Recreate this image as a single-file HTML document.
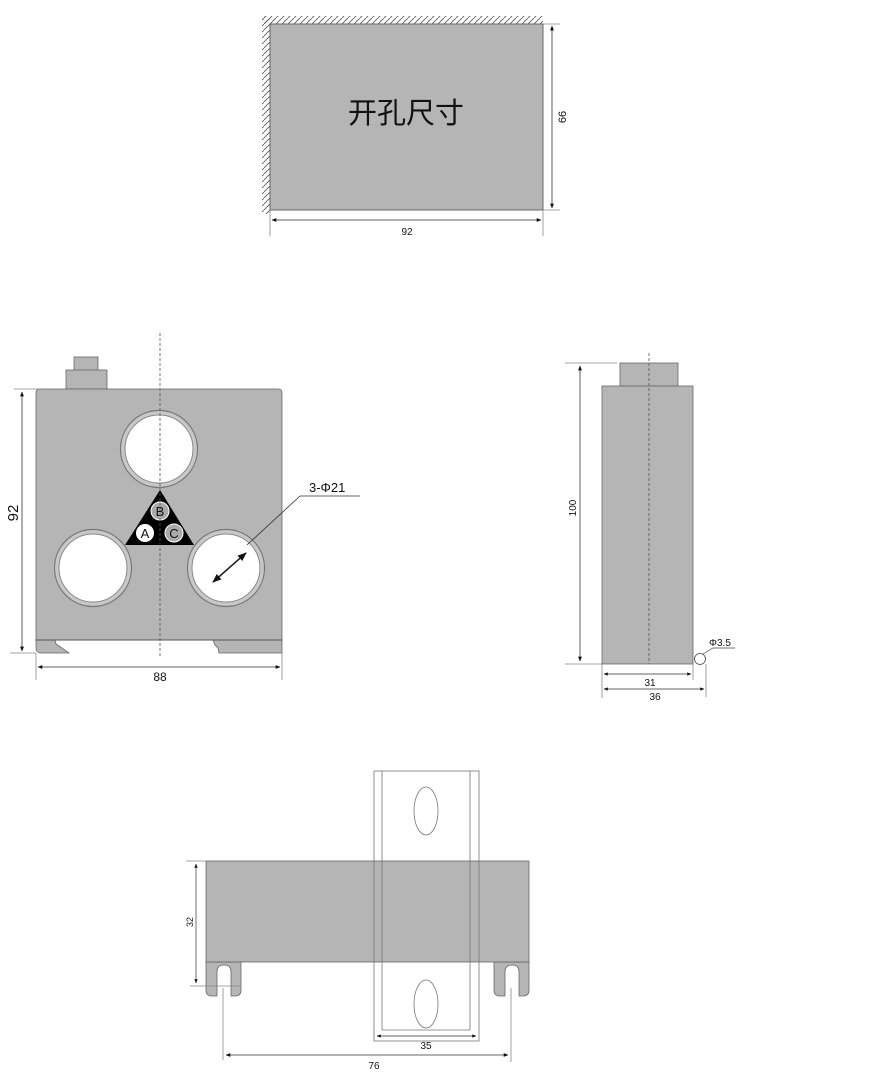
<!DOCTYPE html>
<html><head><meta charset="utf-8"><style>
html,body{margin:0;padding:0;background:#fff;}
svg{display:block;}
text{font-family:"Liberation Sans","Noto Sans CJK SC",sans-serif;fill:#111;}
</style></head><body>
<svg width="890" height="1079" viewBox="0 0 890 1079" xmlns="http://www.w3.org/2000/svg">
<defs>
<marker id="a" viewBox="0 0 10 10" refX="9" refY="5" markerWidth="6" markerHeight="6" orient="auto-start-reverse"><path d="M0,1 L10,5 L0,9 z" fill="#111"/></marker>
<pattern id="h" width="6" height="6" patternUnits="userSpaceOnUse"><path d="M0,6 L6,0" stroke="#555" stroke-width="0.8"/></pattern>
</defs>

<rect x="262" y="16" width="281" height="8" fill="url(#h)"/>
<rect x="262" y="16" width="8" height="198" fill="url(#h)"/>
<rect x="270" y="24" width="273" height="186" fill="#b5b5b5" stroke="#666" stroke-width="1"/>
<text x="406" y="123" font-size="29" text-anchor="middle">开孔尺寸</text>
<line x1="543" y1="24" x2="560" y2="24" stroke="#888" stroke-width="0.8"/>
<line x1="543" y1="210" x2="560" y2="210" stroke="#888" stroke-width="0.8"/>
<line x1="552" y1="26" x2="552" y2="208" stroke="#333" stroke-width="0.8" marker-start="url(#a)" marker-end="url(#a)"/>
<text x="0" y="0" font-size="11" text-anchor="middle" transform="translate(566,117) rotate(-90)">66</text>
<line x1="270" y1="210" x2="270" y2="236" stroke="#888" stroke-width="0.8"/>
<line x1="543" y1="210" x2="543" y2="236" stroke="#888" stroke-width="0.8"/>
<line x1="272" y1="220" x2="541" y2="220" stroke="#333" stroke-width="0.8" marker-start="url(#a)" marker-end="url(#a)"/>
<text x="407" y="235" font-size="10" text-anchor="middle">92</text>

<rect x="74" y="357" width="24" height="14" fill="#b5b5b5" stroke="#666" stroke-width="0.8"/>
<rect x="66" y="370" width="41" height="19" fill="#b5b5b5" stroke="#666" stroke-width="0.8"/>
<path d="M36,393 Q36,389 40,389 L278,389 Q282,389 282,393 L282,640 L36,640 Z" fill="#b5b5b5" stroke="#666" stroke-width="0.8"/>
<path d="M36,640 L55,640 L56,644 L69,653 L40,653 Q36,652 36,648 Z" fill="#b5b5b5" stroke="#666" stroke-width="0.8"/>
<path d="M213,640 L282,640 L282,653 L219,653 L218,648 L215,645 Z" fill="#b5b5b5" stroke="#666" stroke-width="0.8"/>
<line x1="36" y1="640" x2="282" y2="640" stroke="#555" stroke-width="1"/>
<g stroke="#777" stroke-width="1.2" fill="#c8c8c8">
<circle cx="159" cy="449" r="38.5"/><circle cx="93" cy="568" r="38.5"/><circle cx="226" cy="568" r="38.5"/>
</g>
<g stroke="#888" stroke-width="1" fill="#fff">
<circle cx="159" cy="449" r="34"/><circle cx="93" cy="568" r="34"/><circle cx="226" cy="568" r="34"/>
</g>
<path d="M160,490 L194,545 L125,545 Z" fill="#000"/>
<circle cx="160" cy="511" r="9" fill="#aaa" stroke="#fff" stroke-width="1"/>
<circle cx="145" cy="533" r="9" fill="#fff"/>
<circle cx="174" cy="533" r="9" fill="#aaa" stroke="#fff" stroke-width="1"/>
<text x="160" y="516" font-size="13" text-anchor="middle">B</text>
<text x="145" y="538" font-size="13" text-anchor="middle">A</text>
<text x="174" y="538" font-size="13" text-anchor="middle">C</text>
<line x1="160" y1="333" x2="160" y2="656" stroke="#555" stroke-width="0.8" stroke-dasharray="3,2"/>
<line x1="213" y1="582" x2="246" y2="553" stroke="#222" stroke-width="1.5" marker-start="url(#a)" marker-end="url(#a)"/>
<polyline points="247,545 300,496 360,496" fill="none" stroke="#333" stroke-width="0.8"/>
<text x="309" y="492" font-size="13">3-Φ21</text>
<line x1="14" y1="389" x2="45" y2="389" stroke="#888" stroke-width="0.8"/>
<line x1="10" y1="653" x2="36" y2="653" stroke="#888" stroke-width="0.8"/>
<line x1="22" y1="392" x2="22" y2="651" stroke="#333" stroke-width="0.8" marker-start="url(#a)" marker-end="url(#a)"/>
<text x="0" y="0" font-size="15" text-anchor="middle" transform="translate(18,513) rotate(-90)">92</text>
<line x1="36" y1="653" x2="36" y2="680" stroke="#888" stroke-width="0.8"/>
<line x1="282" y1="653" x2="282" y2="680" stroke="#888" stroke-width="0.8"/>
<line x1="38" y1="667" x2="280" y2="667" stroke="#333" stroke-width="0.8" marker-start="url(#a)" marker-end="url(#a)"/>
<text x="160" y="681" font-size="12" text-anchor="middle">88</text>

<rect x="620" y="363" width="58" height="23" fill="#b5b5b5" stroke="#666" stroke-width="0.8"/>
<rect x="602" y="386" width="91" height="278" fill="#b5b5b5" stroke="#666" stroke-width="0.8"/>
<line x1="649" y1="353" x2="649" y2="664" stroke="#555" stroke-width="0.8" stroke-dasharray="3,2"/>
<circle cx="700" cy="659" r="5.5" fill="#fff" stroke="#444" stroke-width="0.8"/>
<polyline points="703,654 713,648 735,648" fill="none" stroke="#444" stroke-width="0.7"/>
<text x="709" y="646" font-size="10">Φ3.5</text>
<line x1="565" y1="363" x2="617" y2="363" stroke="#888" stroke-width="0.8"/>
<line x1="565" y1="664" x2="602" y2="664" stroke="#888" stroke-width="0.8"/>
<line x1="580" y1="366" x2="580" y2="661" stroke="#333" stroke-width="0.8" marker-start="url(#a)" marker-end="url(#a)"/>
<text x="0" y="0" font-size="10" text-anchor="middle" transform="translate(576,508) rotate(-90)">100</text>
<line x1="602" y1="664" x2="602" y2="698" stroke="#888" stroke-width="0.8"/>
<line x1="693" y1="664" x2="693" y2="680" stroke="#888" stroke-width="0.8"/>
<line x1="706" y1="664" x2="706" y2="697" stroke="#888" stroke-width="0.8"/>
<line x1="604" y1="674" x2="691" y2="674" stroke="#333" stroke-width="0.7" marker-start="url(#a)" marker-end="url(#a)"/>
<text x="650" y="686" font-size="10" text-anchor="middle">31</text>
<line x1="604" y1="689" x2="704" y2="689" stroke="#333" stroke-width="0.7" marker-start="url(#a)" marker-end="url(#a)"/>
<text x="655" y="700" font-size="10" text-anchor="middle">36</text>

<path d="M206,962 L241,962 L241,990 Q241,996 235,996 L231,996 L231,972 Q231,965 224,965 Q217,965 217,972 L217,996 L212,996 Q206,996 206,990 Z" fill="#b5b5b5" stroke="#666" stroke-width="0.8"/>
<path d="M494,962 L529,962 L529,990 Q529,996 523,996 L519,996 L519,972 Q519,965 512,965 Q505,965 505,972 L505,996 L500,996 Q494,996 494,990 Z" fill="#b5b5b5" stroke="#666" stroke-width="0.8"/>
<rect x="206" y="861" width="323" height="101" fill="#b5b5b5" stroke="#666" stroke-width="0.8"/>
<rect x="374" y="771" width="105" height="270" fill="none" stroke="#777" stroke-width="0.8"/>
<line x1="382" y1="771" x2="382" y2="1030" stroke="#777" stroke-width="0.8"/>
<line x1="470" y1="771" x2="470" y2="1030" stroke="#777" stroke-width="0.8"/>
<line x1="382" y1="1030" x2="470" y2="1030" stroke="#777" stroke-width="0.8"/>
<ellipse cx="426" cy="811" rx="12" ry="24" fill="#fff" stroke="#777" stroke-width="0.8"/>
<ellipse cx="426" cy="1004" rx="12" ry="24" fill="#fff" stroke="#777" stroke-width="0.8"/>
<line x1="186" y1="861" x2="206" y2="861" stroke="#888" stroke-width="0.8"/>
<line x1="190" y1="986" x2="240" y2="986" stroke="#888" stroke-width="0.8"/>
<line x1="196" y1="864" x2="196" y2="983" stroke="#333" stroke-width="0.7" marker-start="url(#a)" marker-end="url(#a)"/>
<text x="0" y="0" font-size="9" text-anchor="middle" transform="translate(193,922) rotate(-90)">32</text>
<line x1="223" y1="988" x2="223" y2="1060" stroke="#888" stroke-width="0.8"/>
<line x1="511" y1="988" x2="511" y2="1062" stroke="#888" stroke-width="0.8"/>
<line x1="374" y1="1030" x2="374" y2="1041" stroke="#888" stroke-width="0.8"/>
<line x1="377" y1="1036" x2="476" y2="1036" stroke="#333" stroke-width="0.7" marker-start="url(#a)" marker-end="url(#a)"/>
<text x="426" y="1049" font-size="10" text-anchor="middle">35</text>
<line x1="226" y1="1055" x2="508" y2="1055" stroke="#333" stroke-width="0.8" marker-start="url(#a)" marker-end="url(#a)"/>
<text x="374" y="1069" font-size="10" text-anchor="middle">76</text>
</svg>
</body></html>
